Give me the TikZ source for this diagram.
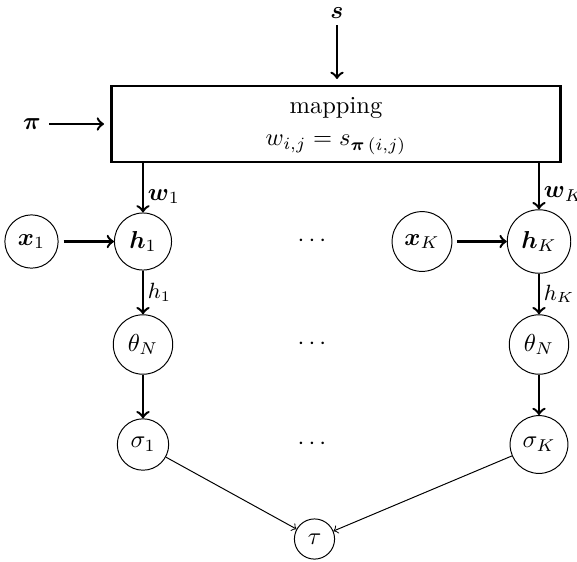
\documentclass[tikz,border=0pt]{standalone}
\usepackage{amsmath,amssymb}
\begin{document}
\begin{tikzpicture}[x=0.408pt,y=-0.408pt,
  var/.style={circle,draw,line width=0.4pt,inner sep=0.3333em,minimum size=15pt},
  thick arrow/.style={->,line width=1pt},
  thin arrow/.style={->,line width=0.4pt},
  lbl/.style={inner sep=1.5pt}]
\useasboundingbox (0,0) rectangle (577,561);
\node[draw,line width=0.95pt,minimum width=183.2pt,minimum height=31pt,inner sep=0pt] (map) at (336,124.2) {};
\node (maptxt) at (336,108) {mapping};
\node (mapeq) at (336,145) {$w_{i,j}=s_{\boldsymbol{\pi}\,(i,j)}$};
\node (s) at (337,13) {$\boldsymbol{s}$};
\node (pi) at (32,124) {$\boldsymbol{\pi}$};
\coordinate (sin) at (337,79);
\coordinate (piin) at (104,124);
\coordinate (sout) at (337,25);
\coordinate (piout) at (49,124);
\draw[thick arrow] (sout) -- (sin);
\draw[thick arrow] (piout) -- (piin);

\node[var] (x1) at (31.5,241.5) {$\boldsymbol{x}_1$};
\node[var] (h1) at (143,241.5) {$\boldsymbol{h}_1$};
\node[var] (xK) at (422,241.5) {$\boldsymbol{x}_K$};
\node[var] (hK) at (539,241.5) {$\boldsymbol{h}_K$};
\node[var] (t1) at (143,344.5) {$\theta_N$};
\node[var] (tK) at (539,344.5) {$\theta_N$};
\node[var] (s1) at (143,444.5) {$\sigma_1$};
\node[var] (sK) at (539,444.5) {$\sigma_K$};
\node[var] (tau) at (314.5,539) {$\tau$};
\node (d1) at (314,241.5) {$\cdots$};
\node (d2) at (314,344.5) {$\cdots$};
\node (d3) at (314,444.5) {$\cdots$};

\coordinate (m1) at (143,162.7);
\coordinate (mK) at (539,162.7);
\draw[thick arrow] (m1) -- (h1.north) node[pos=0.68,right,lbl] {$\boldsymbol{w}_1$};
\draw[thick arrow] (mK) -- (hK.north) node[pos=0.68,right,lbl] {$\boldsymbol{w}_K$};
\draw[thick arrow,shorten <=2pt] (x1) -- (h1);
\draw[thick arrow,shorten <=2pt] (xK) -- (hK);
\draw[thick arrow] (h1) -- (t1) node[midway,right,lbl] {\small$h_1$};
\draw[thick arrow] (hK) -- (tK) node[midway,right,lbl] {\small$h_K$};
\draw[thick arrow] (t1) -- (s1);
\draw[thick arrow] (tK) -- (sK);
\draw[thin arrow] (s1) -- (tau);
\draw[thin arrow] (sK) -- (tau);
\end{tikzpicture}
\end{document}
